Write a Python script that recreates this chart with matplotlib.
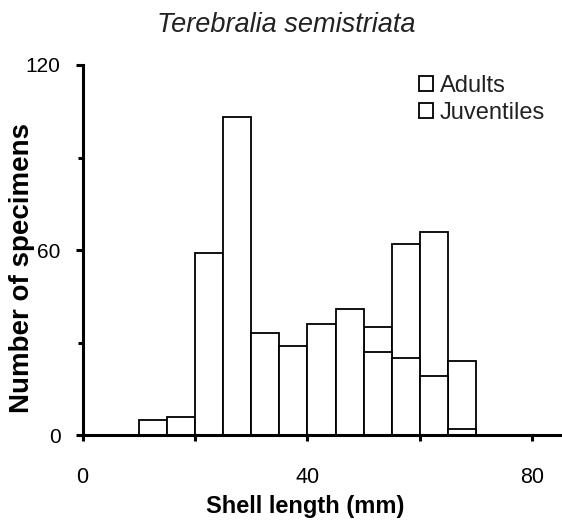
import matplotlib
matplotlib.use("Agg")
import matplotlib.pyplot as plt
from matplotlib.ticker import FixedLocator

# bins of 5 mm starting at 10 mm
bin_left = [10, 15, 20, 25, 30, 35, 40, 45, 50, 55, 60, 65]
juveniles = [5, 6, 59, 103, 33, 29, 36, 41, 27, 25, 19, 2]
adults = [0, 0, 0, 0, 0, 0, 0, 0, 35, 62, 66, 24]
bin_width = 5

xticks = [0, 20, 40, 60, 80]
xticklabels = ["0", "", "40", "", "80"]
yticks = [0, 60, 120]
yminor = [30, 90]

sans = ["Liberation Sans", "DejaVu Sans"]

fig = plt.figure(figsize=(5.62, 5.25), dpi=100)
ax = fig.add_axes([0.1471, 0.1714, 0.850, 0.7048])

ax.bar(bin_left, adults, width=bin_width, align="edge",
       facecolor="white", edgecolor="black", linewidth=1.3, label="Adults")
ax.bar(bin_left, juveniles, width=bin_width, align="edge",
       facecolor="white", edgecolor="black", linewidth=1.3, label="Juventiles")

ax.set_xlim(0, 85)
ax.set_ylim(0, 120)
for s in ["top", "right"]:
    ax.spines[s].set_visible(False)
for s in ["left", "bottom"]:
    ax.spines[s].set_linewidth(2.2)

ax.set_xticks(xticks)
ax.set_xticklabels(xticklabels, family=sans, fontsize=15.5)
ax.set_yticks(yticks)
ax.set_yticklabels([str(v) for v in yticks], family=sans, fontsize=15)
ax.yaxis.set_minor_locator(FixedLocator(yminor))
ax.tick_params(axis="x", direction="out", length=4, width=2.2, pad=19)
ax.tick_params(axis="y", which="major", direction="out", length=5, width=2.2, pad=11)
ax.tick_params(axis="y", which="minor", direction="out", length=3.5, width=2.2)

fig.text(0.509, 0.939, "Terebralia semistriata", family=sans, style="italic",
         fontsize=19.5, color="#222222", ha="center", va="baseline")
fig.text(0.543, 0.023, "Shell length (mm)", family=sans, fontweight="bold",
         fontsize=17, ha="center", va="baseline")
fig.text(0.04, 0.49, "Number of specimens", family=sans, fontweight="bold",
         fontsize=20, rotation=90, ha="center", va="center")

leg = ax.legend(loc="upper left", bbox_to_anchor=(407 / 562, 1 - 63 / 525),
                bbox_transform=fig.transFigure, frameon=False, borderpad=0,
                handlelength=0.6, handleheight=0.6, handletextpad=0.3,
                labelspacing=0.2, prop={"family": sans, "size": 17})
for t in leg.get_texts():
    t.set_color("#222222")

fig.savefig("out.png", dpi=100)
